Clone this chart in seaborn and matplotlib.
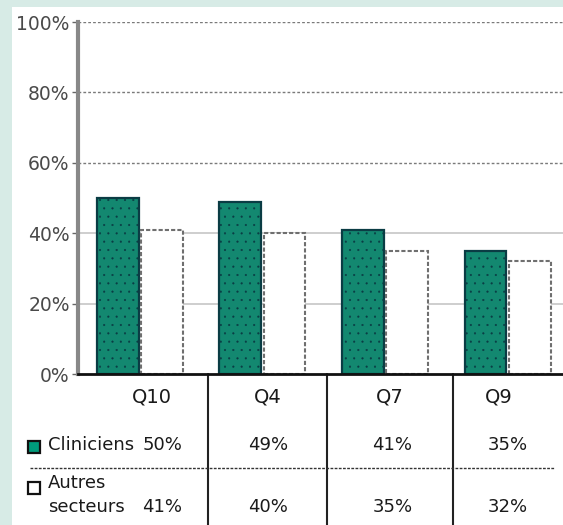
import matplotlib
matplotlib.use("Agg")
import matplotlib.pyplot as plt
from matplotlib.patches import Rectangle
from matplotlib.lines import Line2D
import pandas as pd
import seaborn as sns

# Data
questions = ["Q10", "Q4", "Q7", "Q9"]
groups = ["Cliniciens", "Autres secteurs"]
cliniciens = [50, 49, 41, 35]
autres = [41, 40, 35, 32]
yticks = [0, 20, 40, 60, 80, 100]

GREEN = "#009b7b"
W, H = 563, 525

sns.set_theme(style="white")
plt.rcParams["font.family"] = ["DejaVu Sans"]
plt.rcParams["hatch.linewidth"] = 0.3

fig = plt.figure(figsize=(W / 100, H / 100), dpi=100, facecolor="#d7ebe6")
fig.patches.append(Rectangle((12 / W, 0), 1 - 12 / W, 1 - 7 / H,
                             transform=fig.transFigure, facecolor="white",
                             edgecolor="none", zorder=-10))

ax = fig.add_axes([78 / W, (H - 374) / H, 1 - 78 / W, 352 / H])
ax.patch.set_alpha(0)
ax.set_zorder(2)

df = pd.DataFrame({
    "question": questions * 2,
    "groupe": [groups[0]] * len(questions) + [groups[1]] * len(questions),
    "valeur": cliniciens + autres,
})
sns.barplot(data=df, x="question", y="valeur", hue="groupe",
            order=questions, hue_order=groups,
            palette={groups[0]: GREEN, groups[1]: "white"},
            width=0.72, gap=0.05, legend=False, ax=ax, zorder=3)

for bar in ax.containers[0]:
    bar.set_edgecolor("#0a3c44")
    bar.set_linewidth(1.6)
    bar.set_hatch("..")
for bar in ax.containers[1]:
    bar.set_edgecolor("#6f6f6f")
    bar.set_linewidth(1.5)
    bar.set_linestyle((0, (2, 1)))

ax.set_xlim(-0.506, 3.453)
ax.set_ylim(0, 100)
ax.set_xticks([])
ax.set_xlabel("")
ax.set_ylabel("")
ax.set_yticks(yticks, [f"{v}%" for v in yticks])
ax.tick_params(axis="y", left=True, length=4, width=1, color="#666",
               pad=2, labelsize=13.5, labelcolor="#4a4a4a")

# Gridlines: dotted in the upper part, light solid below
for v in (60, 80, 100):
    ax.axhline(v, color="#7a7a7a", lw=1, ls=(0, (2, 1.5)), zorder=1)
for v in (20, 40):
    ax.axhline(v, color="#c6c6c6", lw=1.2, zorder=1)

for s in ("top", "right"):
    ax.spines[s].set_visible(False)
ax.spines["left"].set_color("#888")
ax.spines["left"].set_linewidth(3)
ax.spines["bottom"].set_color("#111")
ax.spines["bottom"].set_linewidth(2)
ax.spines["bottom"].set_zorder(5)

# Table under the chart
def ay(py):
    return (374 - py) / 352

def fx(px):
    return px / W

def fy(py):
    return 1 - py / H

xt = ax.get_xaxis_transform()
separators = [0.555, 1.53, 2.555]
for s in separators:
    ax.plot([s, s], [0, ay(525)], transform=xt, color="#222", lw=1.5,
            clip_on=False)

q_centers = [0.1, 1.04, 2.04, 2.93]
for q, xc in zip(questions, q_centers):
    ax.text(xc, ay(397), q, transform=xt, ha="center", va="center",
            fontsize=14, color="#1a1a1a", clip_on=False)

value_centers = [1.045, 2.06, 3.0]
for v, xc in zip(cliniciens[1:], value_centers):
    ax.text(xc, ay(445), f"{v}%", transform=xt, ha="center", va="center",
            fontsize=13, color="#1a1a1a", clip_on=False)
for v, xc in zip(autres[1:], value_centers):
    ax.text(xc, ay(507), f"{v}%", transform=xt, ha="center", va="center",
            fontsize=13, color="#1a1a1a", clip_on=False)

fig.text(fx(48), fy(445), "Cliniciens", ha="left", va="center",
         fontsize=13, color="#1a1a1a")
fig.text(fx(182), fy(445), f"{cliniciens[0]}%", ha="right", va="center",
         fontsize=13, color="#1a1a1a")
fig.text(fx(48), fy(483), "Autres", ha="left", va="center",
         fontsize=13, color="#1a1a1a")
fig.text(fx(48), fy(507), "secteurs", ha="left", va="center",
         fontsize=13, color="#1a1a1a")
fig.text(fx(182), fy(507), f"{autres[0]}%", ha="right", va="center",
         fontsize=13, color="#1a1a1a")

fig.patches.append(Rectangle((fx(28), fy(453)), 12 / W, 12 / H,
                             transform=fig.transFigure, facecolor=GREEN,
                             edgecolor="#111", lw=1.6, zorder=5))
fig.patches.append(Rectangle((fx(28), fy(494)), 12 / W, 12 / H,
                             transform=fig.transFigure, facecolor="white",
                             edgecolor="#111", lw=1.6, zorder=5))

fig.lines.append(Line2D([fx(30), fx(555)], [fy(468), fy(468)],
                        transform=fig.transFigure, color="#333", lw=1,
                        ls=(0, (2, 1))))

fig.savefig("out.png", dpi=100, facecolor=fig.get_facecolor())
